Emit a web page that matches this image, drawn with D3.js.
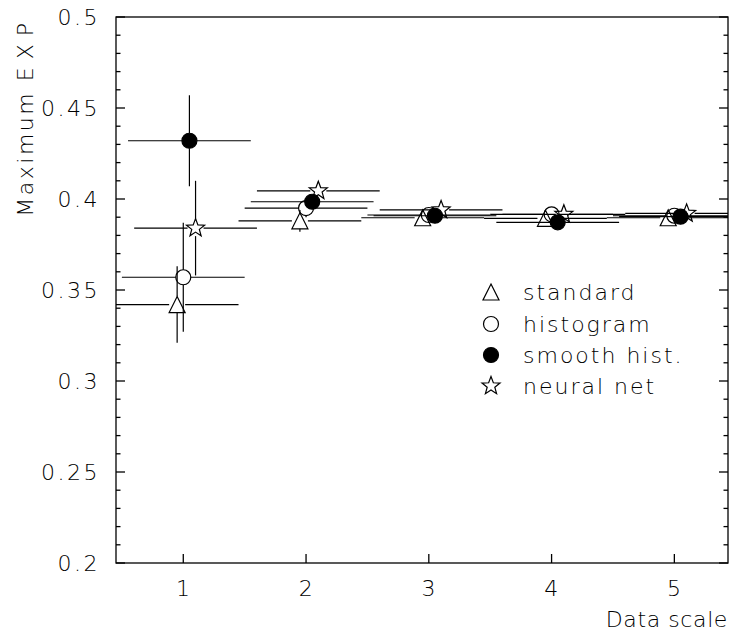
<!DOCTYPE html>
<html>
<head>
<meta charset="utf-8">
<script src="https://cdn.jsdelivr.net/npm/d3@7"></script>
<style>
  body { margin: 0; background: #fff; }
  svg text { font-family: "DejaVu Sans", "Liberation Sans", sans-serif; font-weight: 200; fill: #000; letter-spacing: 2.5px; }
</style>
</head>
<body>
<div id="chart"></div>
<script>
// data
var dataScale = [1, 2, 3, 4, 5];
var xErr = 0.5;

var seriesNames = ["standard", "histogram", "smooth hist.", "neural net"];
var seriesShift = [-0.05, 0, 0.05, 0.1];

var standardVals = [0.342, 0.388, 0.3897, 0.3894, 0.3897];
var standardErr  = [0.021, 0.006, 0.002, 0.002, 0.002];
var histVals     = [0.357, 0.395, 0.3912, 0.3916, 0.3908];
var histErr      = [0.030, 0.005, 0.002, 0.002, 0.002];
var smoothVals   = [0.432, 0.3985, 0.3908, 0.3872, 0.3903];
var smoothErr    = [0.025, 0.004, 0.002, 0.002, 0.002];
var nnVals       = [0.384, 0.4045, 0.394, 0.3916, 0.3921];
var nnErr        = [0.026, 0.005, 0.002, 0.002, 0.002];

var yTicks = [0.2, 0.25, 0.3, 0.35, 0.4, 0.45, 0.5];
var xTicks = [1, 2, 3, 4, 5];

var width = 733,
    height = 635;

// plot frame in pixels
var pLeft = 116, pRight = 728, pTop = 17, pBottom = 563;

var x = d3.scaleLinear().domain([0.452, 5.437]).range([pLeft, pRight]);
var y = d3.scaleLinear().domain([0.2, 0.5]).range([pBottom, pTop]);

var svg = d3.select("#chart").append("svg")
    .attr("width", width)
    .attr("height", height);

svg.append("defs").append("clipPath").attr("id", "plotclip")
    .append("rect")
    .attr("x", pLeft).attr("y", pTop)
    .attr("width", pRight - pLeft).attr("height", pBottom - pTop);

// marker shapes
function starPath(ro, ri) {
    var p = [];
    for (var i = 0; i < 10; i++) {
        var r = i % 2 == 0 ? ro : ri;
        var a = -Math.PI / 2 + i * Math.PI / 5;
        p.push([r * Math.cos(a), r * Math.sin(a)]);
    }
    return "M" + p.map(function(q) { return q[0].toFixed(2) + "," + q[1].toFixed(2); }).join("L") + "Z";
}

var markers = [
    {path: "M0,-8L8,8L-8,8Z", fill: "none", gap: 8},
    {path: d3.symbol(d3.symbolCircle, Math.PI * 7.5 * 7.5)(), fill: "none", gap: 7.5},
    {path: d3.symbol(d3.symbolCircle, Math.PI * 7.5 * 7.5)(), fill: "#000", gap: 7.5},
    {path: starPath(9.5, 4), fill: "none", gap: 8}
];

var series = [
    {vals: standardVals, err: standardErr},
    {vals: histVals, err: histErr},
    {vals: smoothVals, err: smoothErr},
    {vals: nnVals, err: nnErr}
];

// frame
var axis = svg.append("g").attr("stroke", "#000").attr("stroke-width", 1.3).attr("fill", "none");
axis.append("rect")
    .attr("x", pLeft).attr("y", pTop)
    .attr("width", pRight - pLeft).attr("height", pBottom - pTop);

// y ticks, both sides
var yMinor = d3.range(20, 51).map(function(v) { return v / 100; });
yMinor.forEach(function(v) {
    var major = Math.round(v * 100) % 5 == 0;
    var len = major ? 9 : 4.5;
    axis.append("line")
        .attr("x1", pLeft).attr("x2", pLeft + len)
        .attr("y1", y(v)).attr("y2", y(v));
    axis.append("line")
        .attr("x1", pRight).attr("x2", pRight - len)
        .attr("y1", y(v)).attr("y2", y(v));
});

xTicks.forEach(function(v) {
    axis.append("line")
        .attr("x1", x(v)).attr("x2", x(v))
        .attr("y1", pBottom).attr("y2", pBottom - 9);
});

// tick labels
svg.append("g").selectAll("text")
    .data(yTicks)
    .enter().append("text")
    .attr("x", 100)
    .attr("y", function(d) { return y(d); })
    .attr("dy", "0.36em")
    .attr("text-anchor", "end")
    .style("font-size", "22px")
    .text(function(d) { return d3.format("")(d); });

svg.append("g").selectAll("text")
    .data(xTicks)
    .enter().append("text")
    .attr("x", function(d) { return x(d) + 1; })
    .attr("y", 596)
    .attr("text-anchor", "middle")
    .style("font-size", "22px")
    .text(function(d) { return d; });

// axis titles
svg.append("text")
    .attr("x", 728).attr("y", 627)
    .attr("text-anchor", "end")
    .style("font-size", "22px")
    .style("letter-spacing", "0.6px")
    .text("Data scale");

var yt = svg.append("text")
    .attr("transform", "translate(33,15) rotate(-90)")
    .attr("text-anchor", "end")
    .style("font-size", "22px");
yt.append("tspan").text("Maximum ");
yt.append("tspan").style("letter-spacing", "8px").text("EXP");

// points with error bars
var plot = svg.append("g").attr("clip-path", "url(#plotclip)");

series.forEach(function(s, k) {
    var m = markers[k];
    var g = plot.append("g");
    dataScale.forEach(function(ds, i) {
        var cx = x(ds + seriesShift[k]),
            cy = y(s.vals[i]),
            x0 = x(ds + seriesShift[k] - xErr),
            x1 = x(ds + seriesShift[k] + xErr),
            y0 = y(s.vals[i] - s.err[i]),
            y1 = y(s.vals[i] + s.err[i]);
        var gap = m.gap;
        var segs = [
            [x0, cy, cx - gap, cy],
            [cx + gap, cy, x1, cy]
        ];
        if (y0 - cy > gap) segs.push([cx, cy + gap, cx, y0]);
        if (cy - y1 > gap) segs.push([cx, y1, cx, cy - gap]);
        segs.forEach(function(l) {
            g.append("line")
                .attr("x1", l[0]).attr("y1", l[1])
                .attr("x2", l[2]).attr("y2", l[3])
                .attr("stroke", "#000").attr("stroke-width", 1.2);
        });
        g.append("path")
            .attr("d", m.path)
            .attr("transform", "translate(" + cx + "," + cy + ")")
            .attr("fill", m.fill)
            .attr("stroke", "#000")
            .attr("stroke-width", 1.2);
    });
});

// legend
var legendRows = [292, 324, 355, 386];
var legend = svg.append("g");
seriesNames.forEach(function(name, k) {
    legend.append("path")
        .attr("d", markers[k].path)
        .attr("transform", "translate(491," + legendRows[k] + ")")
        .attr("fill", markers[k].fill)
        .attr("stroke", "#000")
        .attr("stroke-width", 1.2);
    legend.append("text")
        .attr("x", 523)
        .attr("y", legendRows[k])
        .attr("dy", "0.36em")
        .style("font-size", "22px")
        .style("letter-spacing", "2px")
        .text(name);
});
</script>
</body>
</html>
